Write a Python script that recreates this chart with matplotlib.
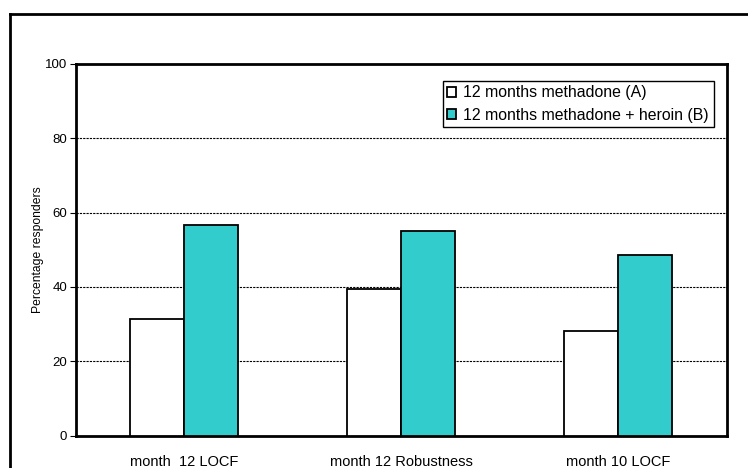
import numpy as np
import matplotlib.pyplot as plt
from matplotlib.lines import Line2D

plt.rcParams['font.family'] = ['Liberation Sans', 'DejaVu Sans']

# data
categories = ['month  12 LOCF', 'month 12 Robustness', 'month 10 LOCF']
methadone = [31.5, 39.5, 28.2]
methadone_heroin = [56.8, 55.1, 48.7]
series_labels = ['12 months methadone (A)', '12 months methadone + heroin (B)']
yticks = [0, 20, 40, 60, 80, 100]

W, H = 748, 468
fig = plt.figure(figsize=(W / 100, H / 100), dpi=100)
ax = fig.add_axes([75.7 / W, 1 - 435.6 / H, 651 / W, 371.6 / H])

x = np.arange(len(categories))
bw = 0.248
ax.bar(x - bw / 2, methadone, bw, color='white', edgecolor='black', linewidth=1.3,
       label=series_labels[0], zorder=3)
ax.bar(x + bw / 2, methadone_heroin, bw, color='#33CCCC', edgecolor='black', linewidth=1.3,
       label=series_labels[1], zorder=3)

ax.set_xlim(-0.5, 2.5)
ax.set_ylim(0, 100)
ax.set_yticks(yticks)
ax.set_xticks(x)
ax.set_xticklabels(categories, fontsize=10.5)
ax.tick_params(axis='x', length=0, pad=14)
ax.tick_params(axis='y', length=4, width=0.8, labelsize=9.5, pad=2)
ax.yaxis.grid(True, linestyle=(0, (2, 1)), color='black', linewidth=0.8, zorder=0)
for s in ax.spines.values():
    s.set_linewidth(2)
ax.set_ylabel('Percentage responders', fontsize=8.7, labelpad=1)

# legend
leg = ax.legend(loc='upper left', bbox_to_anchor=(442.7 / W, 1 - 80.7 / H),
                bbox_transform=fig.transFigure, fontsize=11.4, frameon=True,
                fancybox=False, framealpha=1, edgecolor='black',
                handlelength=0.55, handleheight=0.55, handletextpad=0.45,
                borderpad=0.3, labelspacing=0.45, borderaxespad=0)
leg.get_frame().set_linewidth(1.0)

# outer chart border
fig.add_artist(Line2D([10 / W, 1], [1 - 14 / H, 1 - 14 / H], color='black', linewidth=2,
                      transform=fig.transFigure))
fig.add_artist(Line2D([10 / W, 10 / W], [0, 1 - 14 / H], color='black', linewidth=2,
                      transform=fig.transFigure))

fig.savefig('out.png', dpi=100)
